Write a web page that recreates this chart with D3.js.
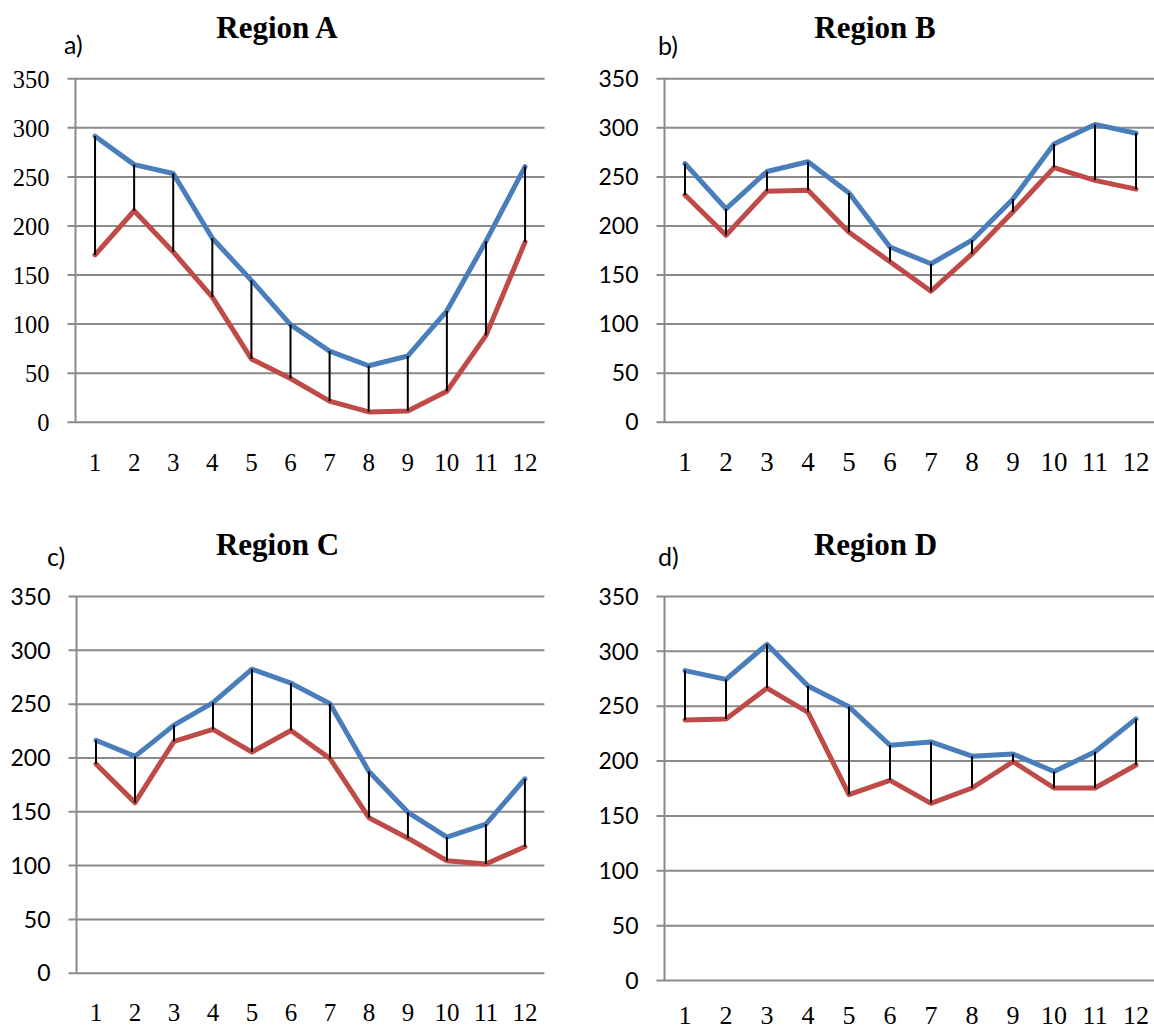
<!DOCTYPE html>
<html>
<head>
<meta charset="utf-8">
<script src="https://cdn.jsdelivr.net/npm/d3@7/dist/d3.min.js"></script>
<style>
  html, body { margin: 0; padding: 0; background: #fff; }
  svg { display: block; }
</style>
</head>
<body>
<svg id="chart" width="1154" height="1030"></svg>
<script>
// Months on the category axis
const months = [1, 2, 3, 4, 5, 6, 7, 8, 9, 10, 11, 12];
const yTicks = [0, 50, 100, 150, 200, 250, 300, 350];

// Upper (blue) and lower (red) series per region
const regionAUpper = [291, 262, 253, 187, 144, 99, 72, 57, 67, 113, 184, 260];
const regionALower = [170, 215, 173, 127, 64, 44, 21, 10, 11, 31, 88, 183];

const regionBUpper = [263, 217, 255, 265, 233, 178, 161, 185, 227, 283, 303, 294];
const regionBLower = [231, 190, 235, 236, 193, 163, 133, 171, 214, 259, 246, 237];

const regionCUpper = [216, 201, 230, 251, 282, 269, 250, 187, 149, 126, 138, 180];
const regionCLower = [194, 158, 215, 226, 205, 225, 199, 144, 125, 104, 101, 117];

const regionDUpper = [282, 274, 306, 268, 249, 214, 217, 204, 206, 190, 208, 238];
const regionDLower = [237, 238, 266, 244, 169, 182, 161, 175, 199, 175, 175, 196];

const titles = ["Region A", "Region B", "Region C", "Region D"];
const tags = ["a)", "b)", "c)", "d)"];

// Panel geometry
const panels = [
  { title: titles[0], tag: tags[0], upper: regionAUpper, lower: regionALower,
    left: 75.5, right: 544.6, top: 78.3, bottom: 421.7,
    titleX: 277, titleY: 38, tagX: 64, tagY: 54,
    yFont: "'Liberation Serif', 'Times New Roman', serif", yFontSize: 24.5,
    xFontSize: 25, xBase: 470.7 },
  { title: titles[1], tag: tags[1], upper: regionBUpper, lower: regionBLower,
    left: 664.5, right: 1156.5, top: 78.3, bottom: 421.7,
    titleX: 875, titleY: 38, tagX: 658, tagY: 55,
    yFont: "Lato, 'Open Sans', sans-serif", yFontSize: 23,
    xFontSize: 27, xBase: 470.7 },
  { title: titles[2], tag: tags[2], upper: regionCUpper, lower: regionCLower,
    left: 76.5, right: 544.4, top: 596, bottom: 972.7,
    titleX: 277.5, titleY: 555, tagX: 47, tagY: 566,
    yFont: "Lato, 'Open Sans', sans-serif", yFontSize: 23,
    xFontSize: 25, xBase: 1021 },
  { title: titles[3], tag: tags[3], upper: regionDUpper, lower: regionDLower,
    left: 664.5, right: 1156.5, top: 596, bottom: 980,
    titleX: 875.5, titleY: 555, tagX: 658, tagY: 566,
    yFont: "Lato, 'Open Sans', sans-serif", yFontSize: 23,
    xFontSize: 26, xBase: 1024 }
];

const svg = d3.select("#chart");
const gridColor = "#8a8a8a";
const blue = "#4a7ebb";
const red = "#be4b48";

panels.forEach(p => {
  const g = svg.append("g");

  const x = d3.scaleBand().domain(months).range([p.left, p.right]);
  const cx = d => x(d) + x.bandwidth() / 2;
  const y = d3.scaleLinear().domain([0, 350]).range([p.bottom, p.top]);

  // Horizontal gridlines with short outward ticks, plus value labels
  const yAxis = d3.axisLeft(y)
    .tickValues(yTicks)
    .tickSizeInner(-(p.right - p.left + 8))
    .tickSizeOuter(0)
    .tickPadding(18);
  const ya = g.append("g")
    .attr("transform", `translate(${p.left - 8},0)`)
    .call(yAxis);
  ya.select(".domain").remove();
  ya.selectAll(".tick line")
    .attr("stroke", gridColor)
    .attr("stroke-width", 2);
  ya.selectAll(".tick text")
    .attr("fill", "#000")
    .attr("dy", "0.36em")
    .style("font-family", p.yFont)
    .style("font-size", p.yFontSize + "px");

  // Vertical value axis line
  g.append("line")
    .attr("x1", p.left).attr("x2", p.left)
    .attr("y1", y(350)).attr("y2", y(0))
    .attr("stroke", gridColor)
    .attr("stroke-width", 2);

  // Category labels
  const xAxis = d3.axisBottom(x).tickSize(0).tickSizeOuter(0);
  const xa = g.append("g")
    .attr("transform", `translate(0,${p.bottom})`)
    .call(xAxis);
  xa.select(".domain").remove();
  xa.selectAll(".tick text")
    .attr("fill", "#000")
    .attr("y", p.xBase - p.bottom)
    .attr("dy", 0)
    .style("font-family", "'Liberation Serif', 'Times New Roman', serif")
    .style("font-size", p.xFontSize + "px");

  const line = d3.line().x((d, i) => cx(months[i])).y(d => y(d));

  g.append("path")
    .datum(p.lower)
    .attr("d", line)
    .attr("fill", "none")
    .attr("stroke", red)
    .attr("stroke-width", 5)
    .attr("stroke-linejoin", "round")
    .attr("stroke-linecap", "round");

  g.append("path")
    .datum(p.upper)
    .attr("d", line)
    .attr("fill", "none")
    .attr("stroke", blue)
    .attr("stroke-width", 5)
    .attr("stroke-linejoin", "round")
    .attr("stroke-linecap", "round");

  // High-low connectors between the two series
  g.selectAll(".hilo")
    .data(months)
    .join("line")
    .attr("class", "hilo")
    .attr("x1", d => cx(d)).attr("x2", d => cx(d))
    .attr("y1", (d, i) => y(p.upper[i]))
    .attr("y2", (d, i) => y(p.lower[i]))
    .attr("stroke", "#000")
    .attr("stroke-width", 2);

  // Title and panel tag
  g.append("text")
    .attr("x", p.titleX).attr("y", p.titleY)
    .attr("text-anchor", "middle")
    .style("font-family", "'Liberation Serif', 'Times New Roman', serif")
    .style("font-weight", "bold")
    .style("font-size", "31px")
    .text(p.title);

  g.append("text")
    .attr("x", p.tagX).attr("y", p.tagY)
    .style("font-family", "Lato, 'Open Sans', sans-serif")
    .style("font-size", "25px")
    .text(p.tag);
});
</script>
</body>
</html>
